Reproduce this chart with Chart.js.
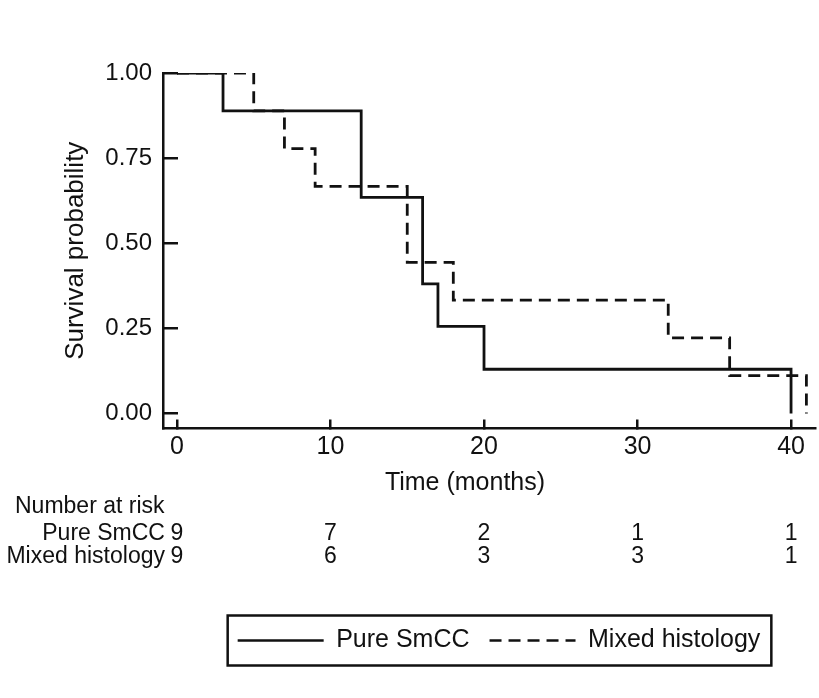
<!DOCTYPE html>
<html>
<head>
<meta charset="utf-8">
<title>Survival by histology</title>
<script src="https://cdn.jsdelivr.net/npm/chart.js@4.4.1/dist/chart.umd.min.js"></script>
<style>
  body { margin: 0; background: #fff; }
  #wrap { width: 819px; height: 698px; }
</style>
</head>
<body>
<div id="wrap"><canvas id="kmChart" width="819" height="698"></canvas></div>
<script>
// Kaplan-Meier steps
var pureTimes  = [0, 3, 12, 16, 17, 20, 40];
var pureSurv   = [1, 0.889, 0.635, 0.381, 0.256, 0.130, 0];
var mixedTimes = [0, 5, 7, 9, 15, 18, 32, 36, 41];
var mixedSurv  = [1, 0.889, 0.778, 0.667, 0.444, 0.333, 0.222, 0.111, 0];

var xTicks = [0, 10, 20, 30, 40];
var yTicks = [0, 0.25, 0.5, 0.75, 1];

// number at risk table
var riskTimes  = [0, 10, 20, 30, 40];
var riskPure   = [9, 7, 2, 1, 1];
var riskMixed  = [9, 6, 3, 3, 1];
var groupNames = ['Pure SmCC', 'Mixed histology'];

var FONT = "'Liberation Sans', Arial, Helvetica, sans-serif";
var INK = '#111';

function toPoints(t, s)
{
  return t.map(function(v, i){ return {x: v, y: s[i]}; });
}

var riskTable = {
  id: 'riskTable',
  afterLayout: function(chart) {
    // legend sits a bit right of the plot centre in the original
    chart.legend.left += 10;
    chart.legend.right += 10;
  },
  afterDraw: function(chart) {
    var ctx = chart.ctx;
    var x = chart.scales.x;
    ctx.save();
    ctx.fillStyle = INK;
    ctx.textBaseline = 'alphabetic';

    ctx.font = '25px ' + FONT;
    ctx.textAlign = 'center';
    ctx.fillText('Time (months)', 465, 490);

    ctx.font = '23px ' + FONT;
    ctx.textAlign = 'left';
    ctx.fillText('Number at risk', 15, 513);

    var rows = [riskPure, riskMixed];
    var base = [540, 563];
    var labelRight = x.getPixelForValue(riskTimes[0]) - 12;
    rows.forEach(function(row, r){
      ctx.textAlign = 'right';
      ctx.fillText(groupNames[r], labelRight, base[r]);
      ctx.textAlign = 'center';
      row.forEach(function(n, i){
        ctx.fillText(String(n), x.getPixelForValue(riskTimes[i]), base[r]);
      });
    });

    // frame round the legend
    var hb = chart.legend.legendHitBoxes;
    if (hb && hb.length) {
      var first = hb[0], last = hb[hb.length - 1];
      var l = first.left - 10;
      var t = first.top - 12.5;
      var r = last.left + last.width + 11;
      var b = first.top + first.height + 12.5;
      ctx.lineWidth = 2.5;
      ctx.strokeStyle = INK;
      ctx.setLineDash([]);
      ctx.strokeRect(l, t, r - l, b - t);
    }
    ctx.restore();
  }
};

var kmData = {
  datasets: [
    {
      label           : groupNames[0],
      data            : toPoints(pureTimes, pureSurv),
      stepped         : true,
      borderColor     : INK,
      backgroundColor : INK,
      borderWidth     : 2.8,
      pointRadius     : 0,
      fill            : false
    },
    {
      label           : groupNames[1],
      data            : toPoints(mixedTimes, mixedSurv),
      stepped         : true,
      borderColor     : INK,
      backgroundColor : INK,
      borderWidth     : 2.8,
      borderDash      : [12, 7],
      pointRadius     : 0,
      fill            : false
    }
  ]
};

var kmOptions = {
  responsive : false,
  animation  : false,
  layout     : { padding: { top: 73, right: 4, left: 0, bottom: 35 } },
  plugins    : {
    tooltip : { enabled: false },
    legend  : {
      position : 'bottom',
      fullSize : false,
      labels   : {
        usePointStyle   : true,
        pointStyle      : 'line',
        pointStyleWidth : 86,
        padding         : 20,
        color           : INK,
        font            : { size: 25, family: FONT },
        generateLabels  : function(chart){
          var items = Chart.defaults.plugins.legend.labels.generateLabels(chart);
          items.forEach(function(item){
            var ds = chart.data.datasets[item.datasetIndex];
            item.lineDash = ds.borderDash || [];
            item.lineWidth = 2.5;
            item.strokeStyle = ds.borderColor;
          });
          return items;
        }
      }
    }
  },
  scales : {
    x : {
      type : 'linear',
      min  : -0.91,
      max  : 41.56,
      afterBuildTicks : function(s){ s.ticks = xTicks.map(function(v){ return {value: v}; }); },
      afterFit        : function(s){ s.height = 179.5; },
      grid   : { drawOnChartArea: false, tickLength: -9, color: INK, lineWidth: 2.5 },
      border : { color: INK, width: 2.5 },
      ticks  : { padding: 13, color: INK, maxRotation: 0, autoSkip: false, font: { size: 25, family: FONT } }
    },
    y : {
      type : 'linear',
      min  : -0.044,
      max  : 1,
      afterBuildTicks : function(s){ s.ticks = yTicks.map(function(v){ return {value: v}; }); },
      afterFit        : function(s){ s.width = 163; },
      grid   : { drawOnChartArea: false, tickLength: -15, color: INK, lineWidth: 2.5 },
      border : { color: INK, width: 2.5 },
      ticks  : {
        padding  : 26,
        color    : INK,
        font     : { size: 24, family: FONT },
        callback : function(v){ return Number(v).toFixed(2); }
      },
      title : {
        display : true,
        text    : 'Survival probability',
        color   : INK,
        font    : { size: 26, family: FONT },
        padding : { top: 60, bottom: 0 }
      }
    }
  }
};

var kmChart = new Chart(document.getElementById('kmChart').getContext('2d'), {
  type    : 'line',
  data    : kmData,
  options : kmOptions,
  plugins : [riskTable]
});
</script>
</body>
</html>
